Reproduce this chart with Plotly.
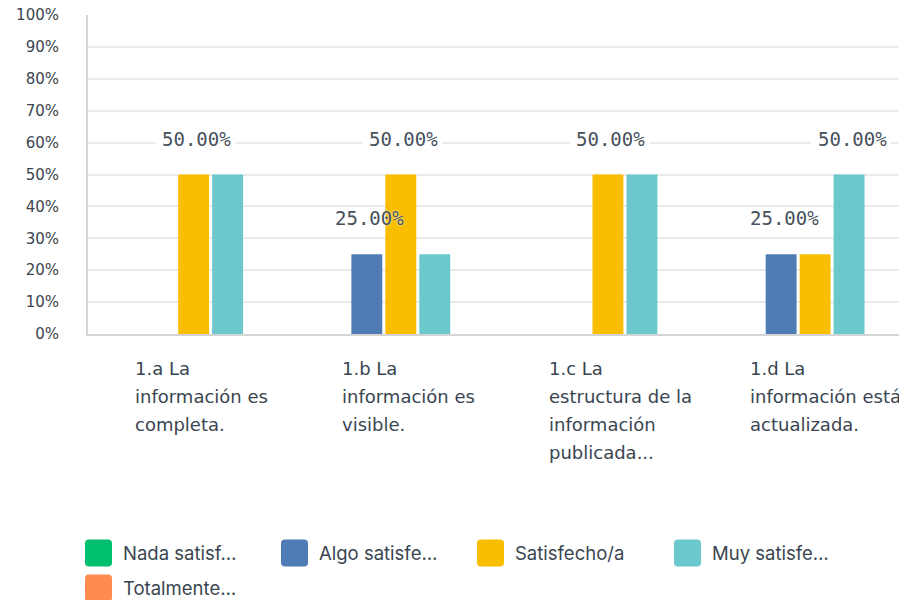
import plotly.graph_objects as go

# Survey results: share of answers per satisfaction level for each item
categories = ["1.a", "1.b", "1.c", "1.d"]
category_labels = [
    ["1.a La", "información es", "completa."],
    ["1.b La", "información es", "visible."],
    ["1.c La", "estructura de la", "información", "publicada..."],
    ["1.d La", "información está", "actualizada."],
]
series_names = ["Nada satisf…", "Algo satisfe…", "Satisfecho/a", "Muy satisfe…", "Totalmente…"]
nada = [0, 0, 0, 0]
algo = [0, 25, 0, 25]
satisfecho = [50, 50, 50, 25]
muy = [50, 25, 50, 50]
totalmente = [0, 0, 0, 0]
series_values = [nada, algo, satisfecho, muy, totalmente]
colors = ["#00bf6f", "#507cb6", "#f9be00", "#6bc8cd", "#ff8b4f"]
y_ticks = [0, 10, 20, 30, 40, 50, 60, 70, 80, 90, 100]
y_tick_text = [f"{v}%" for v in y_ticks]

TEXT = "#3a4550"
SLOT_PX = 34          # horizontal distance between neighbouring bars in a group
LABEL_W, LABEL_H = 76, 20
LABEL_LIFT = 36       # label centre above the bar top, in px

fig = go.Figure()
for name, vals, col in zip(series_names, series_values, colors):
    fig.add_trace(go.Bar(x=categories, y=vals, name=name, marker_color=col,
                         marker_line_width=0, showlegend=False, hoverinfo="skip"))

annotations = []
shapes = []

# value labels above each bar; a label that would collide with one already
# placed is dropped
n_series = len(series_values)
placed = []  # (category index, x offset px, value)
for k, vals in enumerate(series_values):
    dx = (k - (n_series - 1) / 2) * SLOT_PX
    for i, v in enumerate(vals):
        if v <= 0:
            continue
        clash = any(ci == i and abs(cdx - dx) < LABEL_W and abs(cv - v) * 3.19 < LABEL_H
                    for ci, cdx, cv in placed)
        if clash:
            continue
        placed.append((i, dx, v))
        shapes.append(dict(type="rect", layer="between", xref="x", yref="y",
                           xsizemode="pixel", ysizemode="pixel", xanchor=i, yanchor=v,
                           x0=dx - 38, x1=dx + 42, y0=LABEL_LIFT - 10, y1=LABEL_LIFT + 10,
                           fillcolor="white", line_width=0))
        annotations.append(dict(x=i, y=v, xref="x", yref="y", text=f"{v:.2f}%",
                                showarrow=False, yshift=LABEL_LIFT, xshift=dx + 3,
                                font=dict(family="DejaVu Sans Mono", size=19, color="#46515c",
                                          shadow="0px 0px 2px white"),
                                xanchor="center", yanchor="middle"))

# wrapped category labels under the axis (the last one is nudged left so
# more of it stays inside the figure)
for i, lines in enumerate(category_labels):
    shift = -61 if i < len(category_labels) - 1 else -67
    for k, line in enumerate(lines):
        annotations.append(dict(x=i, y=0, xref="x", yref="paper", text=line,
                                showarrow=False, xanchor="left", yanchor="middle",
                                xshift=shift, yshift=-(368 - 334) - 28.3 * k,
                                font=dict(family="DejaVu Sans", size=18, color=TEXT)))

# legend: rounded swatches with labels
legend_pos = [(85, 553), (281, 553), (477, 553), (674, 553), (85, 588)]
r = 4
w = 27
for (lx, ly), name, col in zip(legend_pos, series_names, colors):
    x0 = lx - 88
    x1 = x0 + w
    y1 = -(ly - 13.5 - 334)
    y0 = y1 - w
    path = (f"M {x0 + r},{y0} L {x1 - r},{y0} Q {x1},{y0} {x1},{y0 + r} "
            f"L {x1},{y1 - r} Q {x1},{y1} {x1 - r},{y1} L {x0 + r},{y1} "
            f"Q {x0},{y1} {x0},{y1 - r} L {x0},{y0 + r} Q {x0},{y0} {x0 + r},{y0} Z")
    shapes.append(dict(type="path", xref="paper", yref="paper", xsizemode="pixel",
                       ysizemode="pixel", xanchor=0, yanchor=0, path=path,
                       fillcolor=col, line_width=0))
    annotations.append(dict(x=0, y=0, xref="paper", yref="paper", text=name,
                            showarrow=False, xanchor="left", yanchor="middle",
                            xshift=lx - 88 + 36, yshift=-(ly - 334),
                            font=dict(family="Inter", size=18.5, color=TEXT)))

fig.update_layout(
    width=899, height=600,
    margin=dict(l=88, r=0, t=15, b=266),
    paper_bgcolor="white", plot_bgcolor="white",
    barmode="group", bargap=0.18, bargroupgap=0.09,
    showlegend=False,
    annotations=annotations, shapes=shapes,
    xaxis=dict(range=[-0.51, 3.405], showticklabels=False, showgrid=False,
               showline=True, linecolor="#d4d4d4", linewidth=2, ticks="", zeroline=False),
    yaxis=dict(range=[0, 100], tickvals=y_ticks, ticktext=y_tick_text,
               showgrid=True, gridcolor="#ebebeb", gridwidth=1.5, zeroline=False,
               showline=True, linecolor="#d4d4d4", linewidth=2, ticks="",
               ticklabelstandoff=24,
               tickfont=dict(family="DejaVu Sans", size=15, color=TEXT)),
)

fig.write_html("out.html")
